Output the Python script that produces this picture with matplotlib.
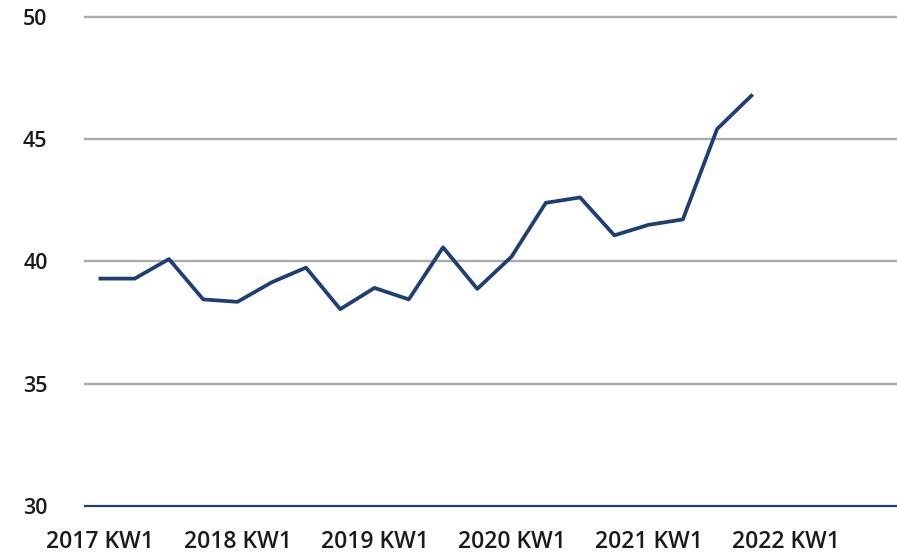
import numpy as np
import matplotlib.pyplot as plt

# quarterly values, 2017 KW1 .. 2021 Q4
values = [39.3, 39.3, 40.1, 38.45, 38.35, 39.15, 39.75, 38.05, 38.92, 38.45,
          40.58, 38.88, 40.2, 42.4, 42.62, 41.07, 41.5, 41.72, 45.42, 46.78]
tick_labels = ['2017 KW1', '2018 KW1', '2019 KW1', '2020 KW1', '2021 KW1', '2022 KW1']
y_ticks = [30, 35, 40, 45, 50]

plt.rcParams['font.family'] = ['Open Sans', 'DejaVu Sans']

fig = plt.figure(figsize=(8.97, 5.56), dpi=100)
ax = fig.add_axes([85/897, 1 - 506/556, 1 - 85/897, (506 - 17)/556])

x = np.arange(len(values))
ax.plot(x, values, color='#1f3f73', lw=2.7, zorder=3)

ax.set_ylim(30, 50)
ax.set_xlim(-0.45, 23.25)
ax.set_yticks(y_ticks)
ax.set_xticks(np.arange(0, 24, 4)[:len(tick_labels)])
ax.set_xticklabels(tick_labels)

for v in y_ticks[1:]:
    ax.axhline(v, color='#ababab', lw=1.7, zorder=1, clip_on=False)
ax.axhline(30, color='#1f3f73', lw=1.6, zorder=2, clip_on=False)

for s in ax.spines.values():
    s.set_visible(False)
ax.tick_params(axis='both', length=0, labelcolor='#1a1a1a')
ax.tick_params(axis='x', labelsize=16.5, pad=17)
ax.tick_params(axis='y', labelsize=15.5, pad=27)
for lab in ax.get_xticklabels() + ax.get_yticklabels():
    lab.set_fontweight('semibold')

fig.savefig('out.png', dpi=100)
